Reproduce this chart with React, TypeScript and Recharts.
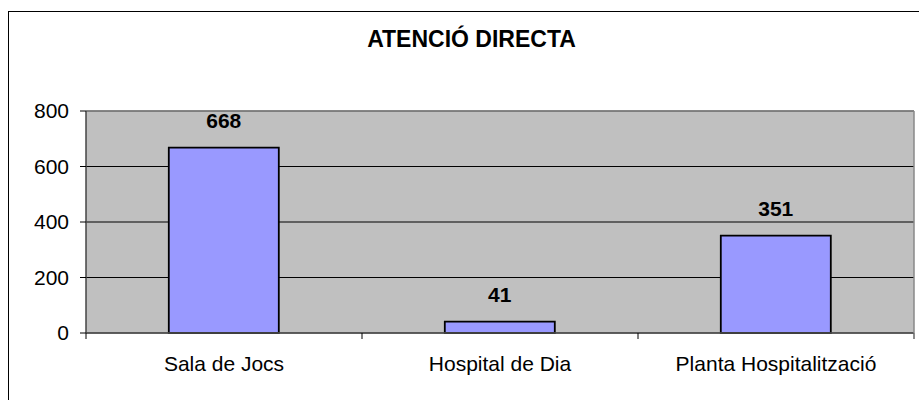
import React from 'react';
import { BarChart, Bar, XAxis, YAxis, CartesianGrid, LabelList, ReferenceLine } from 'recharts';

const categories = ['Sala de Jocs', 'Hospital de Dia', 'Planta Hospitalització'];
const values = [668, 41, 351];
const yTicks = [0, 200, 400, 600, 800];
const title = 'ATENCIÓ DIRECTA';

const data = categories.map((name, i) => ({ name, value: values[i] }));

const FONT = "Arial, 'Liberation Sans', sans-serif";

function CategoryTick(props: any) {
  const { x, y, payload, index, visibleTicksCount } = props;
  const half = payload && typeof payload.offset === 'number' ? payload.offset : 0;
  const last = index === (visibleTicksCount ?? categories.length) - 1;
  return (
    <g>
      <line x1={x - half} x2={x - half} y1={y} y2={y + 6} stroke="#000" strokeWidth={1} />
      {last && <line x1={x + half} x2={x + half} y1={y} y2={y + 6} stroke="#666" strokeWidth={1.5} />}
      <text x={x} y={y + 38} textAnchor="middle" fill="#000" fontSize={21} fontFamily={FONT}>
        {payload.value}
      </text>
    </g>
  );
}

export default function App() {
  return (
    <div style={{ position: 'fixed', left: 0, top: 0, width: 919, height: 400, overflow: 'hidden', background: '#fff' }}>
      <div
        style={{
          position: 'absolute',
          left: 8,
          top: 11,
          width: 940,
          height: 420,
          border: '1px solid #000',
          background: '#fff',
        }}
      >
        <div
          style={{
            position: 'absolute',
            left: 0,
            top: 16,
            width: 925,
            textAlign: 'center',
            fontFamily: FONT,
            fontWeight: 'bold',
            fontSize: 23,
            lineHeight: '22px',
            color: '#000',
          }}
        >
          {title}
        </div>
        <BarChart
          width={930}
          height={400}
          data={data}
          margin={{ top: 99, right: 0, bottom: 39, left: 0 }}
          barCategoryGap="30%"
        >
          <CartesianGrid vertical={false} stroke="#000" fill="#C0C0C0" fillOpacity={1} />
          <XAxis
            dataKey="name"
            height={40}
            tickSize={0}
            tickLine={false}
            tickMargin={0}
            axisLine={{ stroke: '#555', strokeWidth: 1.5 }}
            tick={<CategoryTick />}
            interval={0}
          />
          <YAxis
            width={77}
            domain={[0, 800]}
            ticks={yTicks}
            tickSize={6}
            tickMargin={11}
            tickLine={{ stroke: '#000' }}
            axisLine={{ stroke: '#444', strokeWidth: 1.5 }}
            tick={{ fill: '#000', fontSize: 21, fontFamily: FONT }}
            interval={0}
          />
          <YAxis
            yAxisId="r"
            orientation="right"
            width={25}
            domain={[0, 800]}
            ticks={yTicks}
            tick={false}
            tickLine={false}
            axisLine={{ stroke: '#888', strokeWidth: 1.5 }}
          />
          <ReferenceLine y={800} stroke="#888" strokeWidth={1.5} />
          <Bar dataKey="value" fill="#9999FF" stroke="#000" strokeWidth={1.8} isAnimationActive={false}>
            <LabelList
              dataKey="value"
              position="top"
              offset={20}
              fill="#000"
              fontSize={21}
              fontWeight="bold"
              fontFamily={FONT}
            />
          </Bar>
        </BarChart>
      </div>
    </div>
  );
}
